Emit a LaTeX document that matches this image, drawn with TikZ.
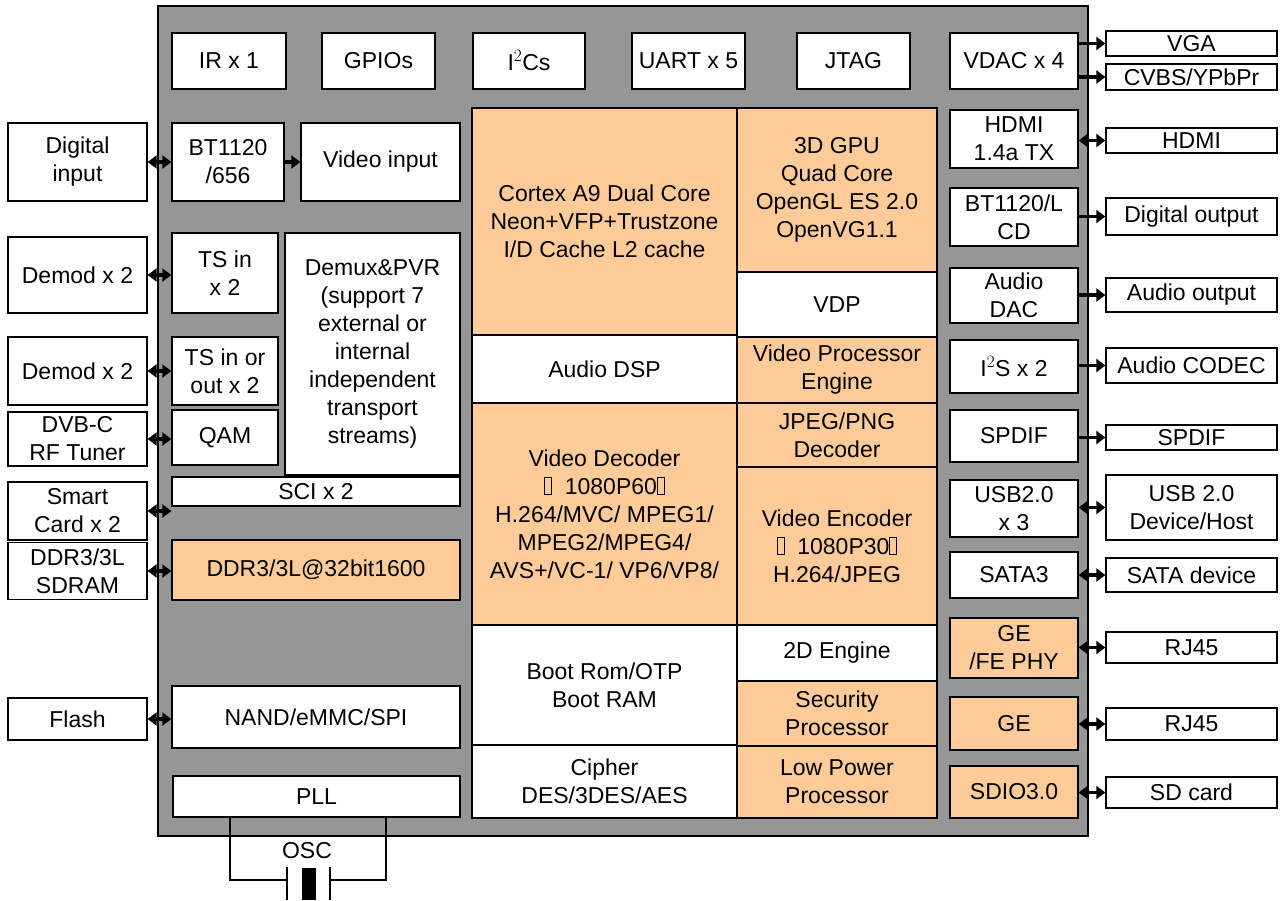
\documentclass[tikz,border=0pt]{standalone}
\usepackage{fontspec}
\setmainfont{Liberation Sans}
\usetikzlibrary{arrows.meta,positioning}
\definecolor{chipgray}{RGB}{150,150,150}
\definecolor{orng}{RGB}{255,204,153}
\newcommand{\tofu}{{\setlength{\fboxsep}{0pt}\setlength{\fboxrule}{0.9pt}\fbox{\rule{0pt}{16pt}\hspace{6pt}}}}

\begin{document}
\begin{tikzpicture}[x=1pt,y=-1pt,
        blk/.style = {draw, line width=1.3pt, fill=white, inner sep=0pt, align=center,
                      font=\fontsize{23}{28}\selectfont},
        org/.style = {blk, fill=orng},
        sz/.style 2 args = {minimum width=#1pt, minimum height=#2pt},
        dbl/.style = {line width=3.5pt, {Triangle[length=9pt,width=13pt]}-{Triangle[length=9pt,width=13pt]}},
        one/.style = {line width=3.5pt, -{Triangle[length=9pt,width=13pt]}},]
        \useasboundingbox (0,0) rectangle (1284,900);

        % chip
        \draw[line width=1.5pt, fill=chipgray] (158,6) rectangle (1088,836);

        % top row
        \node[blk, sz={114}{56}] (ir)   at (229,61)    {IR x 1};
        \node[blk, sz={113}{56}] (gpio) at (378.5,61)  {GPIOs};
        \node[blk, sz={112}{56}] (i2c)  at (529,61)    {I$^2$Cs};
        \node[blk, sz={113}{56}] (uart) at (688.5,61)  {UART x 5};
        \node[blk, sz={113}{56}] (jtag) at (853.5,61)  {JTAG};
        \node[blk, sz={128}{56}] (vdac) at (1014,61)   {VDAC x 4};

        % left column inside
        \node[blk, sz={112}{78}]  (bt)    at (228,162)   {BT1120\\/656};
        \node[blk, sz={159}{78}]  (vin)   at (380.5,162) {Video input};
        \node[blk, sz={106}{80}]  (tsin)  at (225,273)   {TS in\\x 2};
        \node[blk, sz={175}{242}] (demux) at (372.5,354) {Demux\&PVR\\(support 7\\external or\\internal\\independent\\transport\\streams)};
        \node[blk, sz={106}{68}]  (tsio)  at (225,371)   {TS in or\\out x 2};
        \node[blk, sz={106}{55}]  (qam)   at (225,437.5) {QAM};
        \node[blk, sz={288}{29}]  (sci)   at (316,491.5) {SCI x 2};
        \node[org, sz={288}{60}]  (ddr)   at (316,570)   {DDR3/3L@32bit1600};
        \node[blk, sz={288}{62}]  (nand)  at (316,717)   {NAND/eMMC/SPI};
        \node[blk, sz={287}{41}]  (pll)   at (316.5,796.5) {PLL};

        % centre
        \node[org, sz={265}{227}] (cortex) at (604.5,221.5) {Cortex A9 Dual Core\\Neon+VFP+Trustzone\\I/D Cache L2 cache};
        \node[org, sz={200}{164}] (gpu)    at (837,190)     {3D GPU\\Quad Core\\OpenGL ES 2.0\\OpenVG1.1};
        \node[blk, sz={200}{65}]  (vdp)    at (837,304.5)   {VDP};
        \node[blk, sz={265}{68}]  (adsp)   at (604.5,369)   {Audio DSP};
        \node[org, sz={200}{66}]  (vpe)    at (837,370)     {Video Processor\\Engine};
        \node[org, sz={265}{222}] (vdec)   at (604.5,514)   {Video Decoder\\\tofu\ \ 1080P60\tofu\\H.264/MVC/ MPEG1/\\MPEG2/MPEG4/\\AVS+/VC-1/ VP6/VP8/};
        \node[org, sz={200}{64}]  (jpeg)   at (837,435)     {JPEG/PNG\\Decoder};
        \node[org, sz={200}{158}] (venc)   at (837,546)     {Video Encoder\\\tofu\ \ 1080P30\tofu\\H.264/JPEG};
        \node[blk, sz={265}{120}] (boot)   at (604.5,685)   {Boot Rom/OTP\\Boot RAM};
        \node[blk, sz={200}{56}]  (twod)   at (837,653)     {2D Engine};
        \node[org, sz={200}{65}]  (sec)    at (837,713.5)   {Security\\Processor};
        \node[blk, sz={265}{73}]  (cipher) at (604.5,781.5) {Cipher\\DES/3DES/AES};
        \node[org, sz={200}{72}]  (lpp)    at (837,782)     {Low Power\\Processor};

        % right column inside
        \node[blk, sz={128}{58}] (hdmitx) at (1014,139)   {HDMI\\1.4a TX};
        \node[blk, sz={128}{58}] (btlcd)  at (1014,217)   {BT1120/L\\CD};
        \node[blk, sz={128}{55}] (adac)   at (1014,295.5) {Audio\\DAC};
        \node[blk, sz={128}{53}] (i2s)    at (1014,366.5) {I$^2$S x 2};
        \node[blk, sz={128}{52}] (spdifi) at (1014,436)   {SPDIF};
        \node[blk, sz={128}{57}] (usbi)   at (1014,508.5) {USB2.0\\x 3};
        \node[blk, sz={128}{46}] (sata)   at (1014,575)   {SATA3};
        \node[org, sz={128}{60}] (gephy)  at (1014,648)   {GE\\/FE PHY};
        \node[org, sz={128}{53}] (ge)     at (1014,723.5) {GE};
        \node[org, sz={128}{52}] (sdio)   at (1014,792)   {SDIO3.0};

        % outside left
        \node[blk, sz={139}{78}] (din)   at (77.5,162)   {Digital\\input};
        \node[blk, sz={139}{76}] (dem1)  at (77.5,275)   {Demod x 2};
        \node[blk, sz={139}{68}] (dem2)  at (77.5,371)   {Demod x 2};
        \node[blk, sz={139}{54}] (dvbc)  at (77.5,439)   {DVB-C\\RF Tuner};
        \node[blk, sz={139}{58}] (smart) at (77.5,511)   {Smart\\Card x 2};
        \node[blk, sz={139}{57}] (sdram) at (77.5,571)   {DDR3/3L\\SDRAM};
        \node[blk, sz={139}{42}] (flash) at (77.5,719)   {Flash};

        % outside right
        \node[blk, sz={171}{25}] (vga)   at (1191.5,43.5)  {VGA};
        \node[blk, sz={171}{26}] (cvbs)  at (1191.5,77)    {CVBS/YPbPr};
        \node[blk, sz={171}{25}] (hdmi)  at (1191.5,140.5) {HDMI};
        \node[blk, sz={171}{37}] (dout)  at (1191.5,216.5) {Digital output};
        \node[blk, sz={171}{34}] (aout)  at (1191.5,295)   {Audio output};
        \node[blk, sz={171}{35}] (codec) at (1191.5,365.5) {Audio CODEC};
        \node[blk, sz={171}{25}] (spdifo) at (1191.5,437.5) {SPDIF};
        \node[blk, sz={171}{65}] (usbo)  at (1191.5,507.5) {USB 2.0\\Device/Host};
        \node[blk, sz={171}{34}] (satao) at (1191.5,575)   {SATA device};
        \node[blk, sz={171}{31}] (rj1)   at (1191.5,647.5) {RJ45};
        \node[blk, sz={171}{32}] (rj2)   at (1191.5,724)   {RJ45};
        \node[blk, sz={171}{31}] (sd)    at (1191.5,792.5) {SD card};

        % arrows left
        \draw[dbl] (din.east) -- (din.east -| bt.west);
        \draw[dbl] (dem1.east) -- (dem1.east -| tsin.west);
        \draw[dbl] (dem2.east) -- (dem2.east -| tsio.west);
        \draw[dbl] (dvbc.east) -- (dvbc.east -| qam.west);
        \draw[dbl] (smart.east) -- (smart.east -| sci.west);
        \draw[dbl] (sdram.east) -- (sdram.east -| ddr.west);
        \draw[dbl] (flash.east) -- (flash.east -| nand.west);
        \draw[one] (bt.east) -- (vin.west);

        % arrows right
        \draw[one] (vga.west -| vdac.east) -- (vga.west);
        \draw[one] (cvbs.west -| vdac.east) -- (cvbs.west);
        \draw[dbl] (hdmi.west -| hdmitx.east) -- (hdmi.west);
        \draw[one] (dout.west -| btlcd.east) -- (dout.west);
        \draw[one] (aout.west -| adac.east) -- (aout.west);
        \draw[one] (codec.west -| i2s.east) -- (codec.west);
        \draw[one] (spdifo.west -| spdifi.east) -- (spdifo.west);
        \draw[dbl] (usbo.west -| usbi.east) -- (usbo.west);
        \draw[dbl] (satao.west -| sata.east) -- (satao.west);
        \draw[dbl] (rj1.west -| gephy.east) -- (rj1.west);
        \draw[dbl] (rj2.west -| ge.east) -- (rj2.west);
        \draw[dbl] (sd.west -| sdio.east) -- (sd.west);

        % oscillator
        \node[font=\fontsize{23}{28}\selectfont] (osc) at (307,851) {OSC};
        \draw[line width=1.3pt] (230,817) |- (287,880);
        \draw[line width=1.3pt] (386,817) |- (330,880);
        \draw[line width=1.3pt] (287,867) -- (287,900);
        \draw[line width=1.3pt] (330,867) -- (330,900);
        \fill (302,868) rectangle (316,900);
    \end{tikzpicture}
\end{document}
